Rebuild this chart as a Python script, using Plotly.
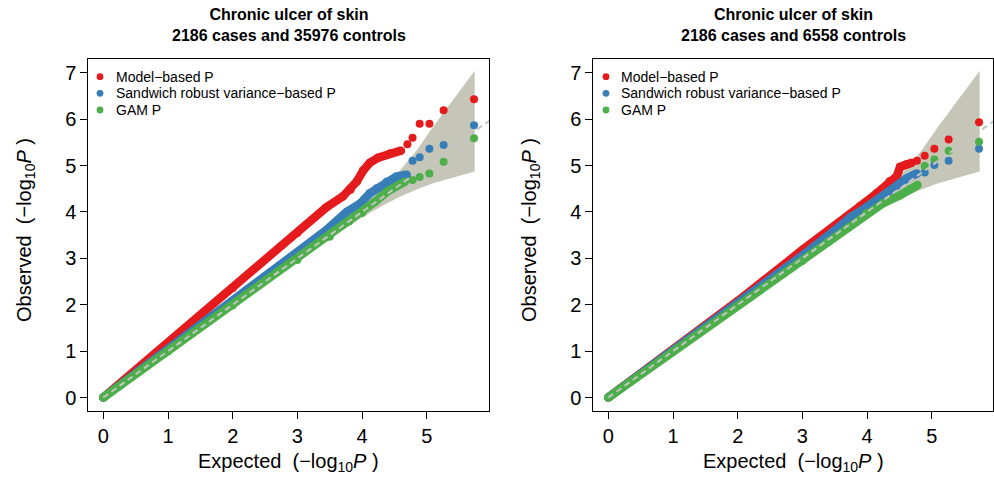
import plotly.graph_objects as go

# ---------------- data ----------------
# Confidence band (shared by both panels)
band_x = [0, 2.5, 3.5, 4.0, 4.3, 4.6, 4.83, 5.1, 5.33, 5.74]
band_hi = [0, 2.53, 3.58, 4.13, 4.48, 4.92, 5.30, 5.84, 6.28, 7.04]
band_lo = [0, 2.47, 3.42, 3.88, 4.12, 4.34, 4.48, 4.62, 4.72, 4.87]

# Left panel: 2186 cases and 35976 controls
L_red_x = [0, 1, 2, 3, 3.45, 3.7, 3.82, 3.92, 4.02, 4.12, 4.25, 4.43, 4.6]
L_red_y = [0, 1.18, 2.36, 3.55, 4.10, 4.33, 4.48, 4.66, 4.90, 5.06, 5.17, 5.26, 5.32]
L_red_tail_x = [4.70, 4.78, 4.89, 5.04, 5.26, 5.73]
L_red_tail_y = [5.46, 5.60, 5.90, 5.90, 6.19, 6.43]

L_blue_x = [0, 1, 1.5, 2.2, 2.73, 3.14, 3.45, 3.76, 3.97, 4.12, 4.23, 4.38, 4.53, 4.69]
L_blue_y = [0, 1.03, 1.55, 2.30, 2.85, 3.25, 3.61, 4.00, 4.18, 4.40, 4.51, 4.65, 4.76, 4.80]
L_blue_tail_x = [4.78, 4.89, 5.04, 5.26, 5.73]
L_blue_tail_y = [5.10, 5.18, 5.36, 5.44, 5.87]

L_green_x = [0, 1, 2, 3, 3.5, 3.8, 4.0, 4.2, 4.4, 4.66]
L_green_y = [0, 1.0, 1.99, 2.97, 3.47, 3.80, 3.98, 4.22, 4.45, 4.65]
L_green_tail_x = [4.78, 4.89, 5.04, 5.26, 5.73]
L_green_tail_y = [4.69, 4.75, 4.83, 5.08, 5.59]

# Right panel: 2186 cases and 6558 controls
R_red_x = [0, 1, 2, 3, 3.27, 3.58, 3.89, 4.15, 4.35, 4.46, 4.51, 4.6, 4.69]
R_red_y = [0, 1.03, 2.08, 3.18, 3.45, 3.78, 4.12, 4.40, 4.66, 4.77, 4.97, 5.02, 5.06]
R_red_tail_x = [4.77, 4.89, 5.04, 5.26, 5.73]
R_red_tail_y = [5.10, 5.21, 5.36, 5.56, 5.93]

R_blue_x = [0, 1, 2, 3, 3.5, 3.74, 3.99, 4.2, 4.4, 4.51, 4.61, 4.77]
R_blue_y = [0, 1.01, 2.03, 3.06, 3.60, 3.88, 4.10, 4.29, 4.47, 4.62, 4.72, 4.83]
R_blue_tail_x = [4.89, 5.04, 5.26, 5.73]
R_blue_tail_y = [4.85, 5.01, 5.10, 5.36]

R_green_x = [0, 1, 2, 3, 3.4, 3.7, 3.99, 4.25, 4.51, 4.66, 4.78]
R_green_y = [0, 0.99, 1.98, 2.95, 3.36, 3.66, 3.97, 4.19, 4.36, 4.49, 4.58]
R_green_tail_x = [4.89, 5.04, 5.26, 5.73]
R_green_tail_y = [4.99, 5.13, 5.32, 5.51]

diag = [0, 7]

titles = ["Chronic ulcer of skin<br>2186 cases and 35976 controls",
          "Chronic ulcer of skin<br>2186 cases and 6558 controls"]
legend_labels = ["Model\u2212based P", "Sandwich robust variance\u2212based P", "GAM P"]
x_ticks = [0, 1, 2, 3, 4, 5]
y_ticks = [0, 1, 2, 3, 4, 5, 6, 7]

# ---------------- styling ----------------
RED, BLUE, GREEN = "#E41A1C", "#377EB8", "#4DAF4A"
BAND = "#C5C6B8"
FONT = "Liberation Sans, Arial, sans-serif"
W, H = 994, 477

fig = go.Figure()

panels = [
    dict(xa="x", ya="y",
         series=[(L_red_x, L_red_y, L_red_tail_x, L_red_tail_y, RED),
                 (L_blue_x, L_blue_y, L_blue_tail_x, L_blue_tail_y, BLUE),
                 (L_green_x, L_green_y, L_green_tail_x, L_green_tail_y, GREEN)]),
    dict(xa="x2", ya="y2",
         series=[(R_red_x, R_red_y, R_red_tail_x, R_red_tail_y, RED),
                 (R_blue_x, R_blue_y, R_blue_tail_x, R_blue_tail_y, BLUE),
                 (R_green_x, R_green_y, R_green_tail_x, R_green_tail_y, GREEN)]),
]

for p in panels:
    fig.add_trace(go.Scatter(
        x=band_x + band_x[::-1], y=band_hi + band_lo[::-1],
        fill="toself", fillcolor=BAND, line=dict(width=0), mode="lines",
        xaxis=p["xa"], yaxis=p["ya"], showlegend=False, hoverinfo="skip"))
    for dx, dy, tx, ty, col in p["series"]:
        fig.add_trace(go.Scatter(
            x=dx, y=dy, mode="lines+markers",
            line=dict(color=col, width=8.5),
            marker=dict(color=col, size=8.5, line=dict(width=0)),
            xaxis=p["xa"], yaxis=p["ya"], showlegend=False))
        fig.add_trace(go.Scatter(
            x=tx, y=ty, mode="markers",
            marker=dict(color=col, size=8, line=dict(width=0)),
            xaxis=p["xa"], yaxis=p["ya"], showlegend=False))
    fig.add_trace(go.Scatter(
        x=diag, y=diag, mode="lines",
        line=dict(color="#C4C4C4", width=2, dash="6px,4px"),
        xaxis=p["xa"], yaxis=p["ya"], showlegend=False, hoverinfo="skip"))

axis_common = dict(showgrid=False, zeroline=False, showline=True, mirror=True,
                   linecolor="black", linewidth=1, ticks="outside", ticklen=7,
                   tickwidth=1, tickcolor="black",
                   tickfont=dict(family=FONT, size=20, color="black"))

# pixel geometry
yr = [-0.284, 7.289]
ydom = [1 - 410.7 / H, 1 - 59.3 / H]
fig.update_layout(
    width=W, height=H, margin=dict(l=0, r=0, t=0, b=0),
    paper_bgcolor="white", plot_bgcolor="white",
    xaxis=dict(domain=[88.3 / W, 489.3 / W], range=[-0.232, 5.966],
               tickvals=x_ticks, anchor="y", **axis_common),
    yaxis=dict(domain=ydom, range=yr, tickvals=y_ticks, anchor="x", **axis_common),
    xaxis2=dict(domain=[593.3 / W, 993 / W], range=[-0.232, 5.946],
                tickvals=x_ticks, anchor="y2", **axis_common),
    yaxis2=dict(domain=ydom, range=yr, tickvals=y_ticks, anchor="x2", **axis_common),
)

annotations = []
shapes = []
panel_geo = [dict(cx=288.8, dot=100.0, txt=114.3, ytitle=26),
             dict(cx=793.2, dot=606.0, txt=619.3, ytitle=531)]
legend_cols = [RED, BLUE, GREEN]
legend_rows = [76.7, 93.3, 110.0]
for i, g in enumerate(panel_geo):
    annotations.append(dict(
        text="<b>" + titles[i] + "</b>", x=g["cx"] / W, y=1 - 25 / H,
        xref="paper", yref="paper", xanchor="center", yanchor="middle",
        showarrow=False, font=dict(family=FONT, size=16, color="black")))
    annotations.append(dict(
        text="Expected  (\u2212log<sub>10</sub><i>P</i> )",
        x=g["cx"] / W, y=1 - 462 / H, xref="paper", yref="paper",
        xanchor="center", yanchor="middle", showarrow=False,
        font=dict(family=FONT, size=20, color="black")))
    annotations.append(dict(
        text="Observed  (\u2212log<sub>10</sub><i>P</i> )",
        x=g["ytitle"] / W, y=1 - 230 / H, xref="paper", yref="paper",
        xanchor="center", yanchor="middle", textangle=-90, showarrow=False,
        font=dict(family=FONT, size=20, color="black")))
    for lab, col, ry in zip(legend_labels, legend_cols, legend_rows):
        r = 3.4
        shapes.append(dict(type="circle", xref="paper", yref="paper",
                           x0=(g["dot"] - r) / W, x1=(g["dot"] + r) / W,
                           y0=1 - (ry + r) / H, y1=1 - (ry - r) / H,
                           fillcolor=col, line=dict(width=0)))
        annotations.append(dict(
            text=lab, x=g["txt"] / W, y=1 - ry / H, xref="paper", yref="paper",
            xanchor="left", yanchor="middle", showarrow=False,
            font=dict(family=FONT, size=14, color="black")))

fig.update_layout(annotations=annotations, shapes=shapes)
fig.write_html("out.html")
